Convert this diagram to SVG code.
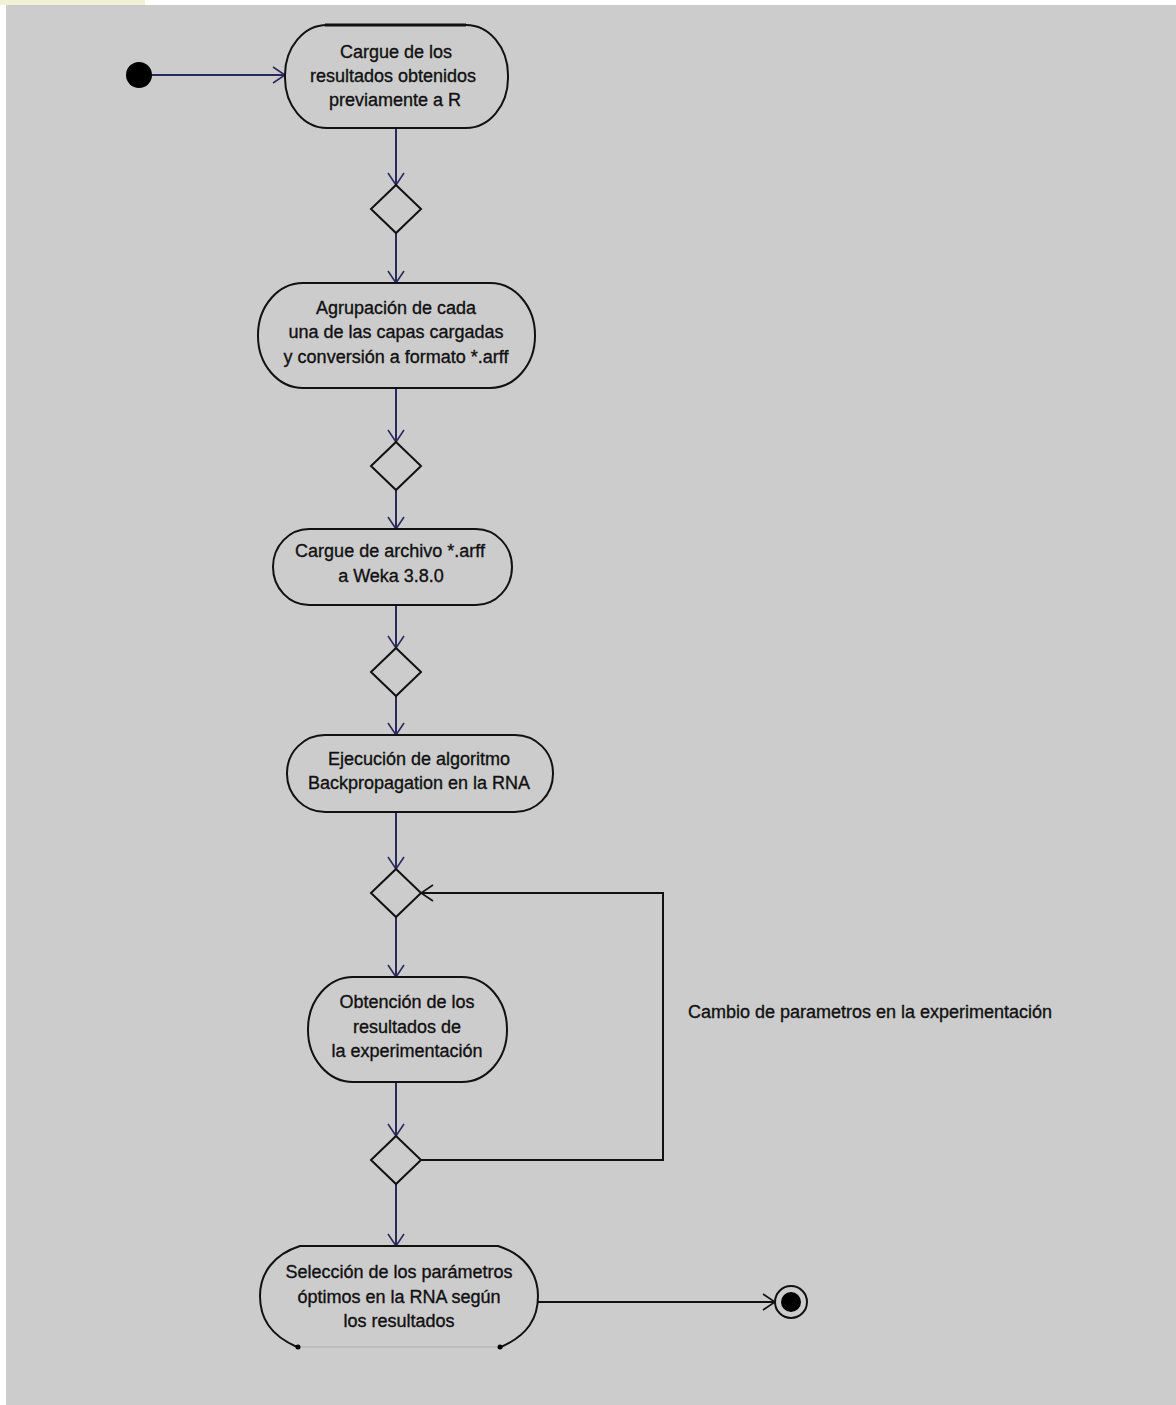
<svg xmlns="http://www.w3.org/2000/svg" width="1176" height="1405" viewBox="0 0 1176 1405">
<style>
.node{fill:none;stroke:#111;stroke-width:2}
.dia{fill:none;stroke:#111;stroke-width:2}
.lbl{font-family:"Liberation Sans",Arial,sans-serif;font-size:18px;fill:#111;stroke:#111;stroke-width:0.35;text-anchor:middle}
.flow{fill:none;stroke:#2a2a5e;stroke-width:2}
.loop{fill:none;stroke:#111;stroke-width:2}
</style>
<defs>
<marker id="arr" markerUnits="userSpaceOnUse" markerWidth="14" markerHeight="18" refX="13" refY="9" orient="auto">
<path d="M1,1 L13,9 L1,17" fill="none" stroke="#2a2a5e" stroke-width="1.6"/>
</marker>
<marker id="arrk" markerUnits="userSpaceOnUse" markerWidth="14" markerHeight="18" refX="13" refY="9" orient="auto">
<path d="M1,1 L13,9 L1,17" fill="none" stroke="#111" stroke-width="1.6"/>
</marker>
</defs>
<rect x="0" y="0" width="1176" height="1405" fill="#ffffff"/>
<rect x="0" y="0" width="145" height="5" fill="#f3f0d8"/>
<rect x="6" y="5" width="1170" height="1400" fill="#cccccc"/>

<g id="connectors">
<line class="flow" x1="152" y1="75" x2="285" y2="75" marker-end="url(#arr)"/>
<line class="flow" x1="396" y1="128" x2="396" y2="185" marker-end="url(#arr)"/>
<line class="flow" x1="396" y1="233" x2="396" y2="283" marker-end="url(#arr)"/>
<line class="flow" x1="396" y1="388" x2="396" y2="442" marker-end="url(#arr)"/>
<line class="flow" x1="396" y1="490" x2="396" y2="529" marker-end="url(#arr)"/>
<line class="flow" x1="396" y1="605" x2="396" y2="648" marker-end="url(#arr)"/>
<line class="flow" x1="396" y1="696" x2="396" y2="735" marker-end="url(#arr)"/>
<line class="flow" x1="396" y1="812" x2="396" y2="869" marker-end="url(#arr)"/>
<line class="flow" x1="396" y1="917" x2="396" y2="977" marker-end="url(#arr)"/>
<line class="flow" x1="396" y1="1082" x2="396" y2="1136" marker-end="url(#arr)"/>
<line class="flow" x1="396" y1="1184" x2="396" y2="1246" marker-end="url(#arr)"/>
<line class="flow" x1="538" y1="1302" x2="775" y2="1302" marker-end="url(#arrk)" style="stroke:#111"/>
<polyline class="loop" points="421,1160 663,1160 663,893 421,893" marker-end="url(#arrk)"/>
<text class="lbl" x="870" y="1018">Cambio de parametros en la experimentación</text>
</g>

<g id="start"><circle cx="139" cy="75" r="13" fill="#000"/></g>

<g id="n1">
<rect class="node" x="285" y="25" width="223" height="103" rx="42" ry="50"/>
<line x1="325" y1="25" x2="466" y2="25" stroke="#111" stroke-width="3"/>
<text class="lbl" x="396" y="58">Cargue de los</text>
<text class="lbl" x="393" y="82">resultados obtenidos</text>
<text class="lbl" x="395" y="106">previamente a R</text>
</g>
<g id="d1"><polygon class="dia" points="396,185 421,209 396,233 371,209"/></g>

<g id="n2">
<rect class="node" x="258" y="283" width="277" height="105" rx="45" ry="52"/>
<text class="lbl" x="396" y="314">Agrupación de cada</text>
<text class="lbl" x="396" y="338">una de las capas cargadas</text>
<text class="lbl" x="396" y="363">y conversión a formato *.arff</text>
</g>
<g id="d2"><polygon class="dia" points="396,442 421,466 396,490 371,466"/></g>

<g id="n3">
<rect class="node" x="273" y="529" width="239" height="76" rx="36" ry="38"/>
<text class="lbl" x="390" y="557">Cargue de archivo *.arff</text>
<text class="lbl" x="391" y="582">a Weka 3.8.0</text>
</g>
<g id="d3"><polygon class="dia" points="396,648 421,672 396,696 371,672"/></g>

<g id="n4">
<rect class="node" x="287" y="735" width="266" height="77" rx="38" ry="38"/>
<text class="lbl" x="419" y="765">Ejecución de algoritmo</text>
<text class="lbl" x="419" y="789">Backpropagation en la RNA</text>
</g>
<g id="d4"><polygon class="dia" points="396,869 421,893 396,917 371,893"/></g>

<g id="n5">
<rect class="node" x="308" y="977" width="199" height="105" rx="45" ry="52"/>
<text class="lbl" x="407" y="1008">Obtención de los</text>
<text class="lbl" x="407" y="1033">resultados de</text>
<text class="lbl" x="407" y="1057">la experimentación</text>
</g>
<g id="d5"><polygon class="dia" points="396,1136 421,1160 396,1184 371,1160"/></g>

<g id="n6">
<path class="node" d="M297,1347 C270,1335 260,1318 260,1296 C260,1272 275,1254 300,1246 L498,1246 C523,1254 538,1272 538,1296 C538,1318 528,1335 501,1347"/>
<line x1="298" y1="1347" x2="500" y2="1347" stroke="#bdbdbd" stroke-width="2"/>
<circle cx="298" cy="1347" r="2.5" fill="#000"/>
<circle cx="500" cy="1347" r="2.5" fill="#000"/>
<text class="lbl" x="399" y="1278">Selección de los parámetros</text>
<text class="lbl" x="399" y="1303">óptimos en la RNA según</text>
<text class="lbl" x="399" y="1327">los resultados</text>
</g>

<g id="end">
<circle cx="791" cy="1302" r="16" fill="none" stroke="#111" stroke-width="2"/>
<circle cx="791" cy="1302" r="10" fill="#000"/>
</g>
</svg>
